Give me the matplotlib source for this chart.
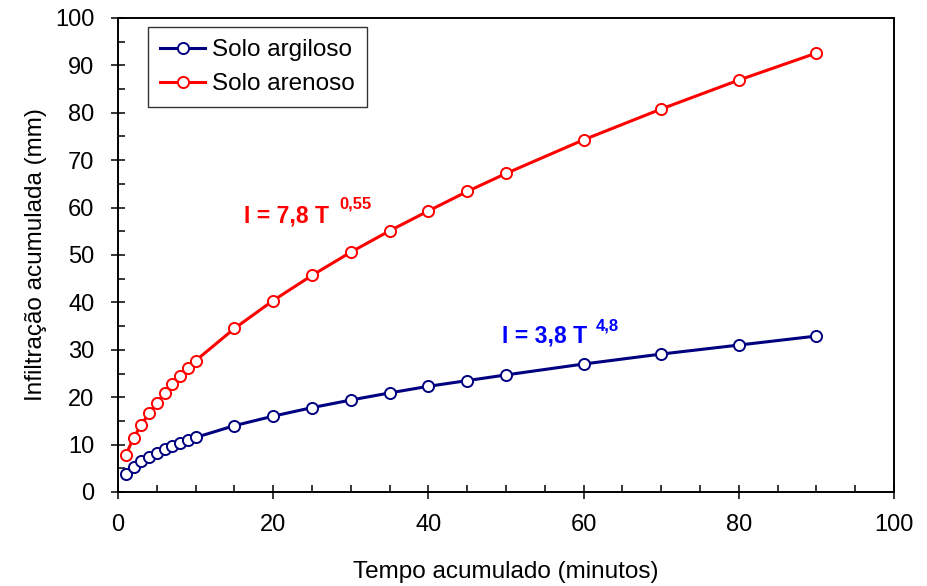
import matplotlib
matplotlib.use("Agg")
import matplotlib.pyplot as plt
from matplotlib.ticker import MultipleLocator

plt.rcParams['font.family'] = ['Liberation Sans', 'DejaVu Sans']

tempo = [1, 2, 3, 4, 5, 6, 7, 8, 9, 10, 15, 20, 25, 30, 35, 40, 45, 50, 60, 70, 80, 90]
argiloso = [3.8, 5.3, 6.5, 7.4, 8.3, 9.0, 9.8, 10.4, 11.0, 11.5, 14.0, 16.0, 17.8,
            19.4, 20.9, 22.3, 23.5, 24.7, 27.0, 29.1, 31.0, 32.9]
arenoso = [7.8, 11.4, 14.2, 16.6, 18.8, 20.8, 22.7, 24.5, 26.1, 27.7, 34.5, 40.4, 45.7,
           50.6, 55.1, 59.3, 63.4, 67.2, 74.3, 80.8, 86.9, 92.6]
labels = ["Solo argiloso", "Solo arenoso"]

W, H = 927, 586
L, R, T, B = 118, 894, 18, 492
fig = plt.figure(figsize=(W/100, H/100), dpi=100)
ax = fig.add_axes([L/W, 1-B/H, (R-L)/W, (B-T)/H])

ax.plot(tempo, argiloso, color='#000080', lw=2.2, marker='o', ms=8,
        mfc='white', mec='#000080', mew=1.4, label=labels[0], clip_on=False, zorder=3)
ax.plot(tempo, arenoso, color='#FF0000', lw=2.2, marker='o', ms=8,
        mfc='white', mec='#FF0000', mew=1.4, label=labels[1], clip_on=False, zorder=3)

ax.set_xlim(0, 100)
ax.set_ylim(0, 100)
ax.xaxis.set_major_locator(MultipleLocator(20))
ax.xaxis.set_minor_locator(MultipleLocator(5))
ax.yaxis.set_major_locator(MultipleLocator(10))
ax.yaxis.set_minor_locator(MultipleLocator(5))
ax.tick_params(which='major', direction='inout', length=10, width=1.1, labelsize=17)
ax.tick_params(axis='x', which='major', pad=11)
ax.tick_params(axis='y', which='major', pad=12)
ax.tick_params(which='minor', direction='in', length=5, width=1.1)
for s in ax.spines.values():
    s.set_linewidth(1.4)

ax.set_xlabel("Tempo acumulado (minutos)", fontsize=17.5, labelpad=18)
ax.set_ylabel("Infiltração acumulada (mm)", fontsize=17.5, labelpad=6)

leg = ax.legend(loc='upper left', bbox_to_anchor=((148-L)/(R-L), 1-(27-T)/(B-T)), fontsize=17.5,
                frameon=True, fancybox=False, edgecolor='black', borderpad=0.5,
                handlelength=1.85, labelspacing=0.5, handletextpad=0.3, borderaxespad=0)
leg.get_frame().set_linewidth(1.0)

ax.text(16.3, 58.2, "I = 7,8 T", color='#FF0000', fontsize=16.5, fontweight='bold',
        va='center')
ax.text(28.5, 60.8, "0,55", color='#FF0000', fontsize=12, fontweight='bold', va='center')
ax.text(49.5, 33.0, "I = 3,8 T", color='#0000FF', fontsize=16.5, fontweight='bold',
        va='center')
ax.text(61.6, 35.0, "4,8", color='#0000FF', fontsize=12, fontweight='bold', va='center')

fig.savefig("out.png", dpi=100)
